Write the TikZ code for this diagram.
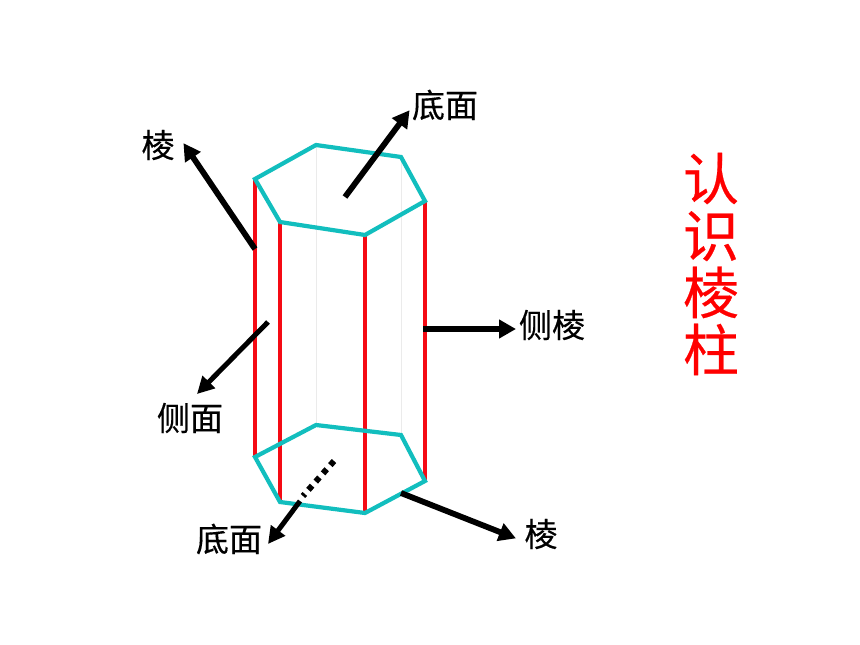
\documentclass[tikz,border=0pt]{standalone}
\usepackage{fontspec}
\usetikzlibrary{arrows.meta}
\newfontfamily\cjk[FakeBold=0.4]{Noto Sans CJK SC}
\definecolor{hexteal}{RGB}{18,190,190}
\definecolor{edgered}{RGB}{245,10,20}
\tikzset{
  hexedge/.style={draw=hexteal,line width=4.2pt,line join=miter},
  rededge/.style={draw=edgered,line width=3.2pt},
  faintedge/.style={draw=black!8,line width=0.8pt},
  pointer/.style={draw=black,line width=5.8pt,-{Triangle[length=17pt,width=18pt]},shorten >=-1pt},
  pointerthin/.style={draw=black,line width=5pt,-{Triangle[length=17pt,width=17pt]}},
  dotline/.style={draw=black,line width=6pt,dash pattern=on 5.5pt off 5.5pt},
  lab/.style={font=\cjk\fontsize{33}{35}\selectfont,text=black,inner sep=0pt,anchor=center},
  titletext/.style={font=\cjk\fontsize{56}{57}\selectfont,text=red,inner sep=0pt,align=center,anchor=center}
}
\begin{document}
\begin{tikzpicture}[x=1pt,y=-1pt]
\useasboundingbox (0,0) rectangle (860,645);
\fill[white] (0,0) rectangle (860,645);
% top hexagon corners
\coordinate (t1) at (255,179); \coordinate (t2) at (316,145); \coordinate (t3) at (401,157);
\coordinate (t4) at (425,201); \coordinate (t5) at (365,235); \coordinate (t6) at (280,222);
% bottom hexagon corners
\coordinate (b1) at (255,457); \coordinate (b2) at (316,425); \coordinate (b3) at (401,435);
\coordinate (b4) at (425,481); \coordinate (b5) at (365,513); \coordinate (b6) at (280,502);
% faint hidden edges
\draw[faintedge] (t2) -- (b2);
\draw[faintedge] (t3) -- (b3);
% red side edges
\draw[rededge] (t1) -- (b1);
\draw[rededge] (t6) -- (b6);
\draw[rededge] (t5) -- (b5);
\draw[rededge] (t4) -- (b4);
% hexagons
\draw[hexedge] (t1) -- (t2) -- (t3) -- (t4) -- (t5) -- (t6) -- cycle;
\draw[hexedge] (b1) -- (b2) -- (b3) -- (b4) -- (b5) -- (b6) -- cycle;
% labels
\node[lab] (ltop) at (445,105) {底面};
\node[lab] (lleng) at (158,145) {棱};
\node[lab] (lce) at (552,325) {侧棱};
\node[lab] (lside) at (190,418) {侧面};
\node[lab] (lbot) at (229,539) {底面};
\node[lab] (lleng2) at (541,534) {棱};
\node[titletext] (title) at (711,264) {认\\识\\棱\\柱};
% pointers: anchors
\coordinate (a1s) at (345,197); \coordinate (a1e) at (409,111);
\coordinate (a2s) at (255,249); \coordinate (a2e) at (184,144);
\coordinate (a3s) at (423,329); \coordinate (a3e) at (515,329);
\coordinate (a4s) at (268,322); \coordinate (a4e) at (197,394);
\coordinate (a5s) at (401,493); \coordinate (a5e) at (515,538);
\coordinate (a6s) at (334,461); \coordinate (a6d) at (303,496); \coordinate (a6m) at (300,501); \coordinate (a6e) at (268,544);
\draw[pointer] (a1s) -- (a1e);
\draw[pointer] (a2s) -- (a2e);
\draw[pointer] (a3s) -- (a3e);
\draw[pointerthin] (a4s) -- (a4e);
\draw[pointer] (a5s) -- (a5e);
\draw[dotline] (a6s) -- (a6d);
\draw[pointerthin] (a6m) -- (a6e);
\end{tikzpicture}
\end{document}
